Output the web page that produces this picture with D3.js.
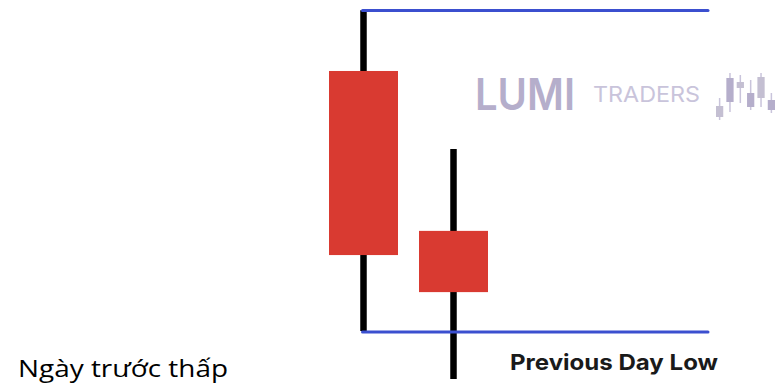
<!DOCTYPE html>
<html>
<head>
<meta charset="utf-8">
<script src="https://cdn.jsdelivr.net/npm/d3@7"></script>
<style>
  body { margin: 0; background: #fff; }
  svg { display: block; }
</style>
</head>
<body>
<div id="chart"></div>
<script>
// candle data (price units, 0..100)
const days = ["d1", "d2"];
const opens = [81.8, 40.8];
const highs = [97.4, 61.8];
const lows = [15.1, 2.8];
const closes = [34.6, 25.1];

// previous day levels
const levelNames = ["high", "low"];
const levelValues = [97.3, 14.9];

// logo candles (decoration, own 0..48 scale)
const logoOpen = [15, 43, 39, 28, 44, 21];
const logoClose = [4, 19, 33, 14, 23, 11];
const logoHigh = [23, 48, 46, 41, 48, 28];
const logoLow = [1, 9, 18, 11, 14, 8];

const colors = {
    body: '#d93a31',
    wick: '#000000',
    level: '#3b4fcf',
    logo: '#b5aecb',
    logoLight: '#c9c4db',
    text: '#1a1a1a'
};

const width = 775, height = 391;

const svg = d3.select("#chart")
    .append("svg")
    .attr("width", width)
    .attr("height", height);

// scales
const x = d3.scalePoint()
    .domain(days)
    .range([363.5, 453.5]);
const y = d3.scaleLinear()
    .domain([0, 100])
    .range([390, 0]);
const bodyWidth = 69;

const candles = days.map((d, i) => ({
    day: d, open: opens[i], high: highs[i], low: lows[i], close: closes[i]
}));

// wicks
svg.append("g")
    .selectAll("line")
    .data(candles)
    .enter()
    .append("line")
    .attr("x1", d => x(d.day))
    .attr("x2", d => x(d.day))
    .attr("y1", d => y(d.high))
    .attr("y2", d => y(d.low))
    .attr("stroke", colors.wick)
    .attr("stroke-width", 6.5);

// bodies
svg.append("g")
    .selectAll("rect")
    .data(candles)
    .enter()
    .append("rect")
    .attr("x", d => x(d.day) - bodyWidth / 2)
    .attr("y", d => y(Math.max(d.open, d.close)))
    .attr("width", bodyWidth)
    .attr("height", d => y(Math.min(d.open, d.close)) - y(Math.max(d.open, d.close)))
    .attr("fill", colors.body);

// previous day high / low
svg.append("g")
    .selectAll("line")
    .data(levelValues)
    .enter()
    .append("line")
    .attr("x1", x(days[0]) - 1)
    .attr("x2", 708)
    .attr("y1", d => y(d))
    .attr("y2", d => y(d))
    .attr("stroke", colors.level)
    .attr("stroke-width", 3)
    .attr("stroke-linecap", "round");

svg.append("text")
    .attr("x", 510)
    .attr("y", 370)
    .attr("font-family", "Inter, sans-serif")
    .attr("font-weight", 700)
    .attr("font-size", 22)
    .attr("textLength", 208)
    .attr("lengthAdjust", "spacingAndGlyphs")
    .attr("fill", colors.text)
    .text("Previous Day Low");

// watermark
svg.append("text")
    .attr("x", 475)
    .attr("y", 110)
    .attr("font-family", "Inter, sans-serif")
    .attr("font-weight", 600)
    .attr("font-size", 44)
    .attr("textLength", 100)
    .attr("lengthAdjust", "spacingAndGlyphs")
    .attr("fill", colors.logo)
    .text("LUMI");
svg.append("text")
    .attr("x", 593)
    .attr("y", 102)
    .attr("font-family", "Inter, sans-serif")
    .attr("font-weight", 400)
    .attr("font-size", 22)
    .attr("textLength", 107)
    .attr("lengthAdjust", "spacingAndGlyphs")
    .attr("fill", colors.logoLight)
    .text("TRADERS");

const logoX = d3.scaleBand()
    .domain(d3.range(logoOpen.length))
    .range([716, 775])
    .paddingInner(0.3);
const logoY = d3.scaleLinear()
    .domain([0, 48])
    .range([121, 73]);
const logo = svg.append("g")
    .selectAll("g")
    .data(logoOpen.map((o, i) => ({i, o, c: logoClose[i], h: logoHigh[i], l: logoLow[i]})))
    .enter()
    .append("g");
logo.append("line")
    .attr("x1", d => logoX(d.i) + logoX.bandwidth() / 2)
    .attr("x2", d => logoX(d.i) + logoX.bandwidth() / 2)
    .attr("y1", d => logoY(d.h))
    .attr("y2", d => logoY(d.l))
    .attr("stroke", colors.logoLight)
    .attr("stroke-width", 1.5);
logo.append("rect")
    .attr("x", d => logoX(d.i))
    .attr("y", d => logoY(Math.max(d.o, d.c)))
    .attr("width", logoX.bandwidth())
    .attr("height", d => logoY(Math.min(d.o, d.c)) - logoY(Math.max(d.o, d.c)))
    .attr("fill", (d, i) => i % 2 ? colors.logo : "#c4bfd2");

// caption
svg.append("text")
    .attr("x", 18)
    .attr("y", 377)
    .attr("font-family", "'Open Sans', sans-serif")
    .attr("font-size", 24)
    .attr("textLength", 210)
    .attr("lengthAdjust", "spacingAndGlyphs")
    .attr("fill", "#000")
    .text("Ngày trước thấp");
</script>
</body>
</html>
